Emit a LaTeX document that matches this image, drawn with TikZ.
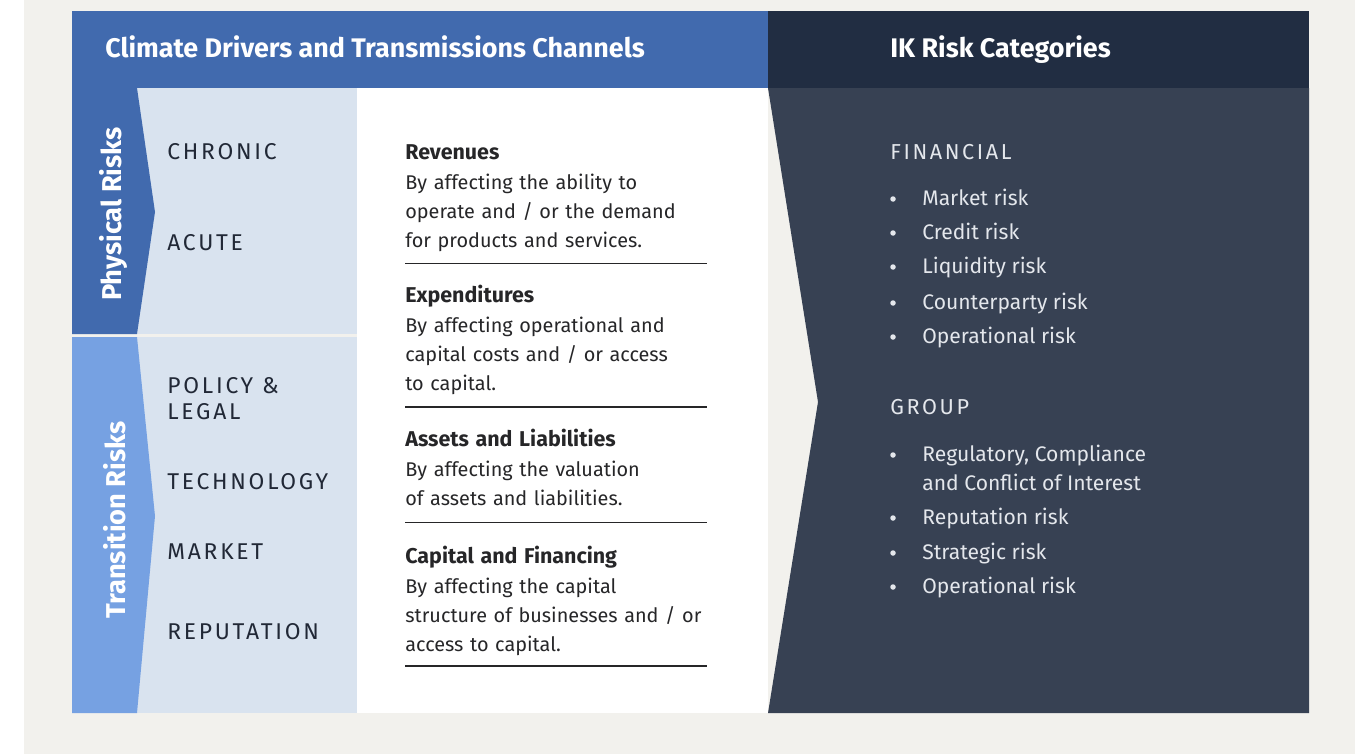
\documentclass[tikz,border=0pt]{standalone}
\usepackage{fontspec}
\setmainfont{Fira Sans}
\newfontfamily\spacedfont[LetterSpace=12]{Fira Sans}
\usepackage{xcolor}
\definecolor{HeadBlue}{RGB}{65,106,174}
\definecolor{HeadNavy}{RGB}{33,45,66}
\definecolor{PanelNavy}{RGB}{55,65,83}
\definecolor{PaleBlue}{RGB}{217,227,239}
\definecolor{SkyBlue}{RGB}{118,161,226}
\definecolor{PageGray}{RGB}{242,241,237}
\definecolor{InkDark}{RGB}{33,40,54}
\definecolor{InkBody}{RGB}{38,38,40}
\definecolor{InkLight}{RGB}{228,231,236}
\usetikzlibrary{positioning}

\begin{document}
\begin{tikzpicture}[
    x = 0.02cm
    , y = -0.02cm
    , headtxt/.style = {
      , anchor = base west
      , inner sep = 0pt
      , text = white
      , font = \bfseries\fontsize{15.3}{18}\selectfont
    }
    , sidetxt/.style = {
      , rotate = 90
      , anchor = base
      , inner sep = 0pt
      , text = white
      , font = \bfseries\fontsize{15.5}{18}\selectfont
    }
    , drivertxt/.style = {
      , anchor = base west
      , inner sep = 0pt
      , text = InkDark
      , font = \spacedfont\fontsize{13}{15}\selectfont
    }
    , channeltxt/.style = {
      , anchor = base west
      , inner sep = 0pt
      , text width = 6.6cm
      , align = left
      , text = InkBody
      , font = \fontsize{11.3}{16.44}\selectfont
    }
    , cathead/.style = {
      drivertxt,
      text = InkLight,
      font = \spacedfont\fontsize{12.3}{15}\selectfont
    }
    , cattxt/.style = {
      , anchor = base west
      , inner sep = 0pt
      , text = InkLight
      , font = \fontsize{12}{16.44}\selectfont
    }
    , rule/.style = {
      , draw = InkBody
      , line width = 0.7pt
    }
    ]
    % page and frame
    \useasboundingbox (0,0) rectangle (1355,754);
    \fill[PageGray] (24,0) rectangle (1355,754);
    \fill[HeadBlue] (72,11) rectangle (768,88);
    \fill[HeadNavy] (768,11) rectangle (1309,88);
    \fill[white] (357,88) rectangle (768,713);

    % drivers column
    \fill[PaleBlue] (72,88) rectangle (357,334);
    \fill[PaleBlue] (72,337) rectangle (357,713);
    \fill[HeadBlue] (72,88) -- (137,88) -- (155,212) -- (137,334) -- (72,334) -- cycle;
    \fill[SkyBlue] (72,337) -- (137,337) -- (155,516) -- (137,713) -- (72,713) -- cycle;

    % risk categories panel
    \fill[PanelNavy] (768,88) -- (1309,88) -- (1309,713) -- (768,713) -- (818,402) -- cycle;

    \node[headtxt] (drivershead) at (105,57) {Climate Drivers and Transmissions Channels};
    \node[headtxt] (categoryhead) at (890,57) {IK Risk Categories};

    \node[sidetxt] (physical) at (121,214) {Physical Risks};
    \node[sidetxt] (transition) at (125,520) {Transition Risks};

    \node[drivertxt] (chronic) at (167,159) {CHRONIC};
    \node[drivertxt] (acute) at (167,250) {ACUTE};
    \node[drivertxt] (policy) at (167,393) {POLICY \&};
    \node[drivertxt] (legal) at (167,419) {LEGAL};
    \node[drivertxt] (technology) at (167,489) {TECHNOLOGY};
    \node[drivertxt] (market) at (167,559) {MARKET};
    \node[drivertxt] (reputation) at (167,639) {REPUTATION};

    % transmission channels
    \node[channeltxt] (revenues) at (405,159) {{\bfseries\fontsize{12.2}{16.44}\selectfont Revenues}\\[1.1pt]
      By affecting the ability to\\ operate and / or the demand\\ for products and services.};
    \node[channeltxt] (expenditures) at (405,302) {{\bfseries\fontsize{12.2}{16.44}\selectfont Expenditures}\\[1.1pt]
      By affecting operational and\\ capital costs and / or access\\ to capital.};
    \node[channeltxt] (assets) at (405,446) {{\bfseries\fontsize{12.2}{16.44}\selectfont Assets and Liabilities}\\[1.1pt]
      By affecting the valuation\\ of assets and liabilities.};
    \node[channeltxt] (capital) at (405,563) {{\bfseries\fontsize{12.2}{16.44}\selectfont Capital and Financing}\\[1.1pt]
      By affecting the capital\\ structure of businesses and / or\\ access to capital.};
    \foreach \y in {263.5,407,522.5,666}
      \draw[rule] (405,\y) -- (707,\y);

    % categories
    \node[cathead] (financial) at (890,159) {FINANCIAL};
    \foreach \y/\t [count=\i] in {205/Market risk, 239/Credit risk, 273/Liquidity risk,
        309/Counterparty risk, 343/Operational risk} {
      \fill[InkLight] (893,\y-6) circle[radius=0.055cm];
      \node[cattxt] (finitem\i) at (922,\y) {\t};
    }
    \node[cathead] (group) at (890,414) {GROUP};
    \fill[InkLight] (893,455) circle[radius=0.055cm];
    \node[cattxt] (regulatory) at (922,461) {Regulatory, Compliance};
    \node[cattxt] (conflict) at (922,490) {and Conflict of Interest};
    \foreach \y/\t [count=\i] in {524/Reputation risk, 559/Strategic risk, 593/Operational risk} {
      \fill[InkLight] (893,\y-6) circle[radius=0.055cm];
      \node[cattxt] (grpitem\i) at (922,\y) {\t};
    }
\end{tikzpicture}
\end{document}
